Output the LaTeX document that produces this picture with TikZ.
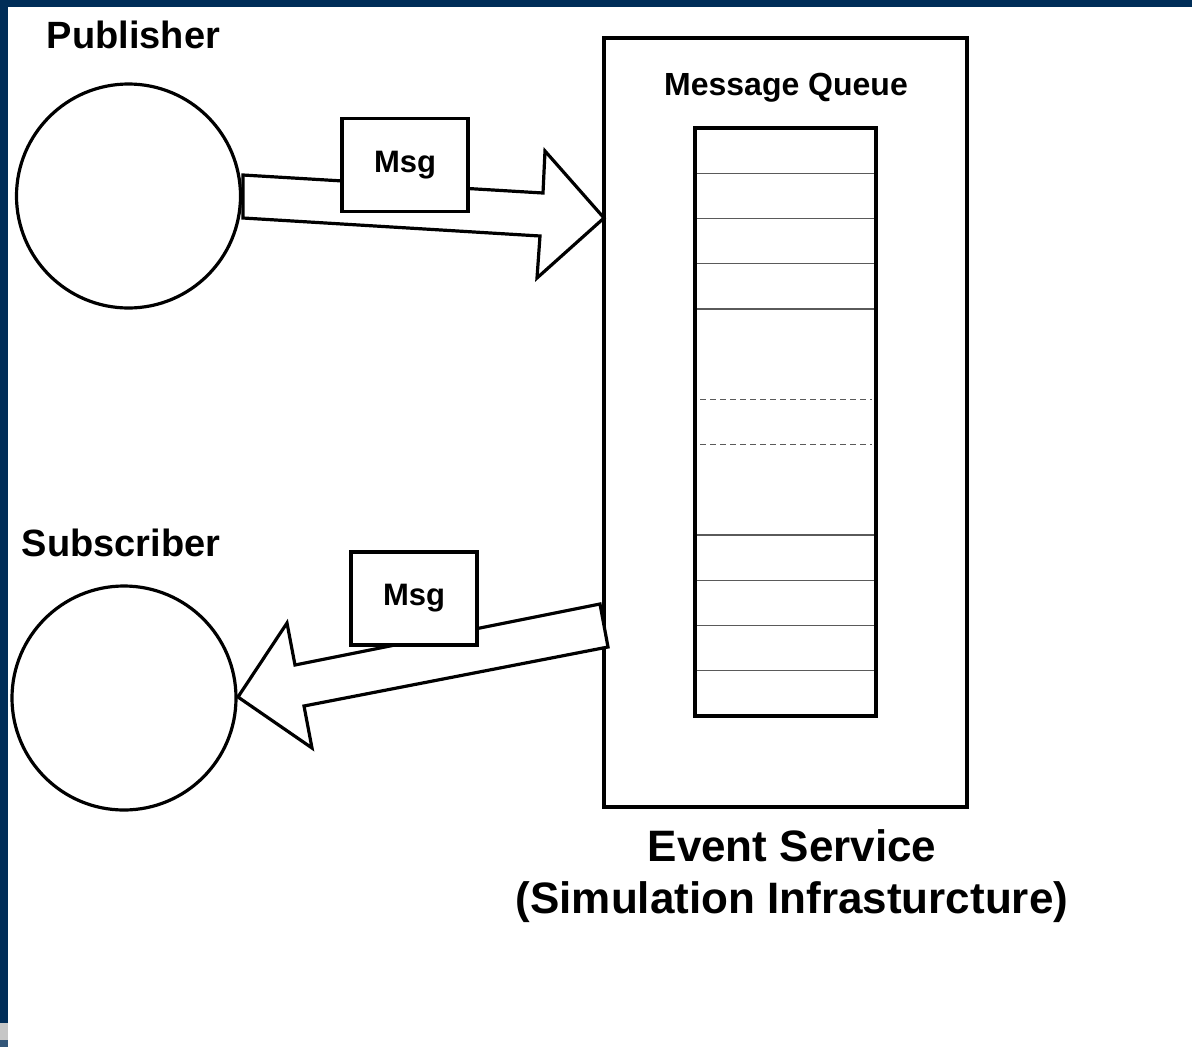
\documentclass[tikz,border=0pt]{standalone}
\usepackage{fontspec}
\setmainfont{Liberation Sans}
\usetikzlibrary{positioning}

\definecolor{frameblue}{RGB}{0,45,88}
\definecolor{cellgray}{RGB}{90,90,90}

\tikzset{actor/.style={circle, draw, line width=3.2pt, minimum size=224pt, inner sep=0pt}
    , msgbox/.style={draw, fill=white, line width=3.2pt, minimum width=126pt, minimum height=93pt
        , inner sep=0pt, font=\fontsize{31}{36}\selectfont\bfseries}
    , blockarrow/.style={draw, fill=white, line width=3.2pt, line join=miter}
    , celline/.style={cellgray, line width=1.2pt}
    , gapline/.style={cellgray, line width=1pt, dash pattern=on 6pt off 4pt}
    }

\begin{document}
\begin{tikzpicture}[x=1pt, y=-1pt
    , every node/.style={font=\fontsize{38}{44}\selectfont\bfseries}
    ]

    \useasboundingbox (0,0) rectangle (1192,1047);
    % slide frame
    \fill[frameblue] (0,0) rectangle (1192,7);
    \fill[frameblue] (0,0) rectangle (8,1047);
    \fill[gray!45] (0,1023) rectangle (8,1040);
    \fill[frameblue!80] (0,1040) rectangle (8,1047);

    \node[actor] (pub) at (128.5,196) {};
    \node[anchor=base] (publbl) at (133.5,48) {Publisher};
    \node[actor] (sub) at (124,698) {};
    \node[anchor=base] (sublbl) at (121,556) {Subscriber};

    %% event service and queue
    \coordinate (esnw) at (604,38);
    \coordinate (esse) at (967,807);
    \draw[line width=3.2pt] (esnw) rectangle (esse);
    \node[anchor=base, font=\fontsize{32}{38}\selectfont\bfseries] (mqlbl) at (786,95) {Message Queue};
    \node[anchor=base, align=center, font=\fontsize{44}{52}\selectfont\bfseries] (eslbl)
        at (792,913) {Event Service\\(Simulation Infrasturcture)};

    \foreach \k in {1,2,3,4,9,10,11,12}
        \draw[celline] (696,128+45.23*\k) -- (875,128+45.23*\k);
    \foreach \k in {6,7}
        \draw[gapline] (700,128+45.23*\k) -- (872,128+45.23*\k);
    \coordinate (mqnw) at (695,128);
    \coordinate (mqse) at (876,716);
    \draw[line width=3.2pt] (mqnw) rectangle (mqse);

    % Now the publish arrow
    \coordinate (pubtip) at (604,218);
    \draw[blockarrow] (243,175) -- (543,193) -- (545,151) -- (pubtip)
        -- (537,278) -- (540,236) -- (243,218) -- cycle;
    \node[msgbox] (msgpub) at (405,165) {Msg};

    % and the delivery arrow
    \coordinate (subtip) at (238,697);
    \draw[blockarrow] (600,604) -- (295,665) -- (287,623) -- (subtip)
        -- (312,748) -- (304,706) -- (608,647) -- cycle;
    \node[msgbox] (msgsub) at (414,598.5) {Msg};

\end{tikzpicture}
\end{document}
